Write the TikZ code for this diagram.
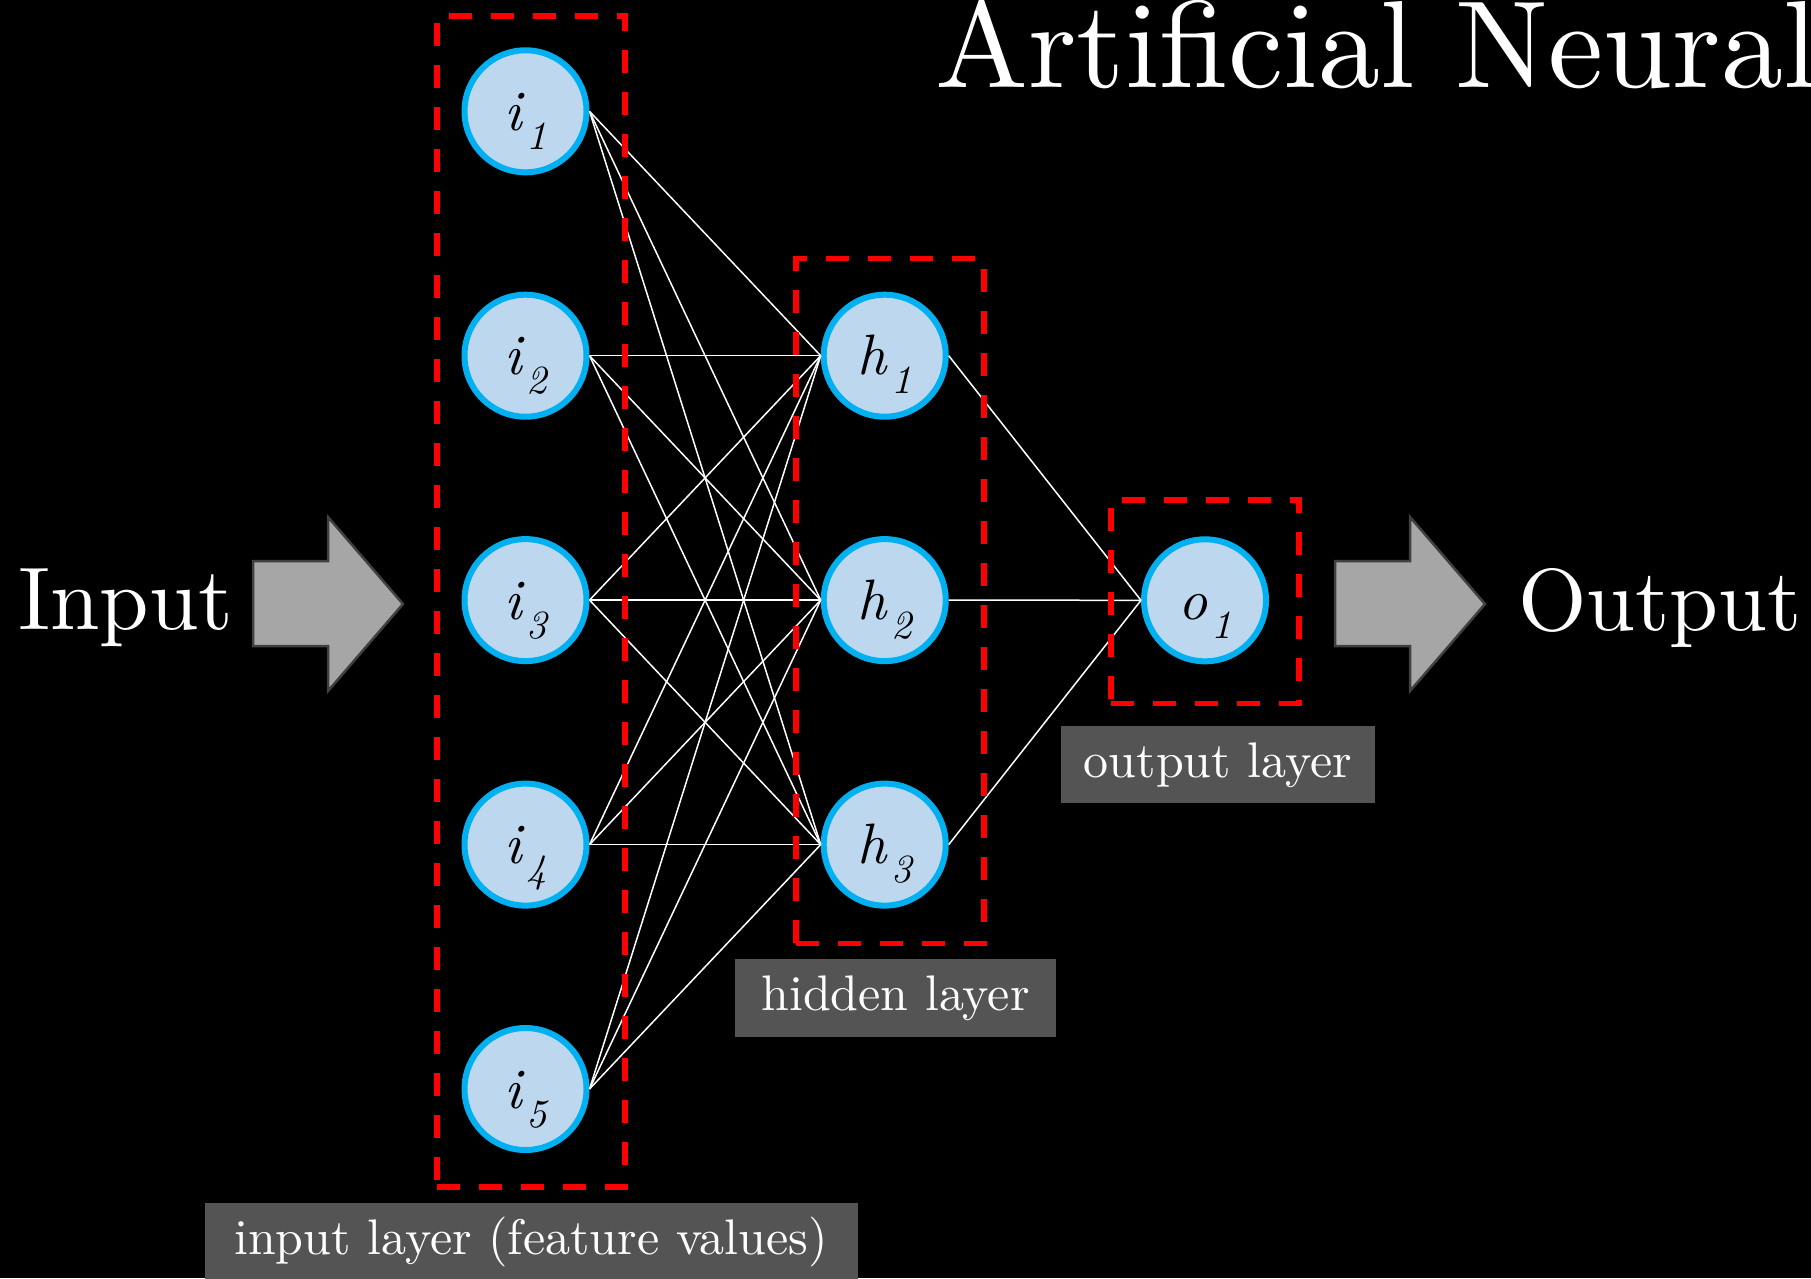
\documentclass[tikz,border=0pt]{standalone}
\usepackage{fontspec}
% one design size for every scale
\setmainfont{lmroman10-regular.otf}[ItalicFont=lmroman10-italic.otf, BoldFont=lmroman10-bold.otf]
\definecolor{cellfill}{HTML}{BDD7EE}
\definecolor{cellring}{HTML}{00B0F0}
\definecolor{boxred}{HTML}{FF0000}
\definecolor{tagfill}{HTML}{545454}
\definecolor{arrowfill}{HTML}{A6A6A6}
\definecolor{arrowedge}{HTML}{404040}
% neuron label: italic letter with a lowered italic index
\newcommand{\nlab}[2]{{\itshape #1}\kern4pt\raisebox{-19pt}{\fontsize{40}{40}\selectfont\itshape #2}}
\begin{document}
\begin{tikzpicture}[x=1pt,y=-1pt,
  neuron/.style={circle, fill=cellfill, draw=cellring, line width=6pt,
    minimum size=122pt, inner sep=0pt, text height=38pt, text depth=0pt,
    font=\fontsize{57}{60}\selectfont},
  synapse/.style={white, line width=1.5pt},
  groupbox/.style={draw=boxred, line width=5.5pt, dash pattern=on 23pt off 19pt,
    minimum width=188pt, inner sep=0pt},
  tag/.style={fill=tagfill, text=white, inner sep=0pt, minimum height=77.5pt,
    text height=35pt, text depth=10pt, font=\fontsize{50}{60}\selectfont},
  bigarrow/.style={fill=arrowfill, draw=arrowedge, line width=2.5pt, line join=miter},
  heading/.style={text=white, inner sep=0pt, anchor=base west}
]
\fill[black] (0,0) rectangle (1811,1278);
\useasboundingbox (0,0) rectangle (1811,1278);

% title and side captions
\node[heading, font=\fontsize{124}{130}\selectfont] (title) at (935,87) {Artificial Neural};
\node[heading, font=\fontsize{89}{95}\selectfont] (inlbl) at (18,629) {Input};
\node[heading, font=\fontsize{88}{95}\selectfont] (outlbl) at (1518,630) {Output};

% block arrows
\draw[bigarrow] (253,561) -- (328,561) -- (328,517) -- (403,604) -- (328,691) -- (328,646) -- (253,646) -- cycle;
\draw[bigarrow] (1335,561) -- (1410,561) -- (1410,517) -- (1485,604) -- (1410,691) -- (1410,646) -- (1335,646) -- cycle;

% neurons
\foreach \k/\y in {1/111.3,2/355.7,3/600.1,4/844.6,5/1089}
  \node[neuron] (i\k) at (525.5,\y) {\nlab{i}{\k}};
\foreach \k/\y in {1/355.7,2/600.1,3/844.6}
  \node[neuron] (h\k) at (884.7,\y) {\nlab{h}{\k}};
\node[neuron] (o1) at (1205,600.3) {\nlab{o}{1}};

% weights
\foreach \a in {1,...,5}
  \foreach \b in {1,2,3}
    \draw[synapse] (i\a.east) -- (h\b.west);
\foreach \b in {1,2,3}
  \draw[synapse] (h\b.east) -- (o1.west);

% layer frames
\node[groupbox, minimum height=1171pt] (inbox) at (531.2,601.5) {};
\node[groupbox, minimum height=685pt] (hidbox) at (890,601.2) {};
\node[groupbox, minimum height=203.5pt] (outbox) at (1205,601.5) {};

% layer tags
\node[tag, minimum width=653pt] (intag) at (531,1241.5) {input layer (feature values)};
\node[tag, minimum width=321pt] (hidtag) at (895.5,997.8) {hidden layer};
\node[tag, minimum width=314pt] (outtag) at (1218,764.7) {output layer};
\end{tikzpicture}
\end{document}
